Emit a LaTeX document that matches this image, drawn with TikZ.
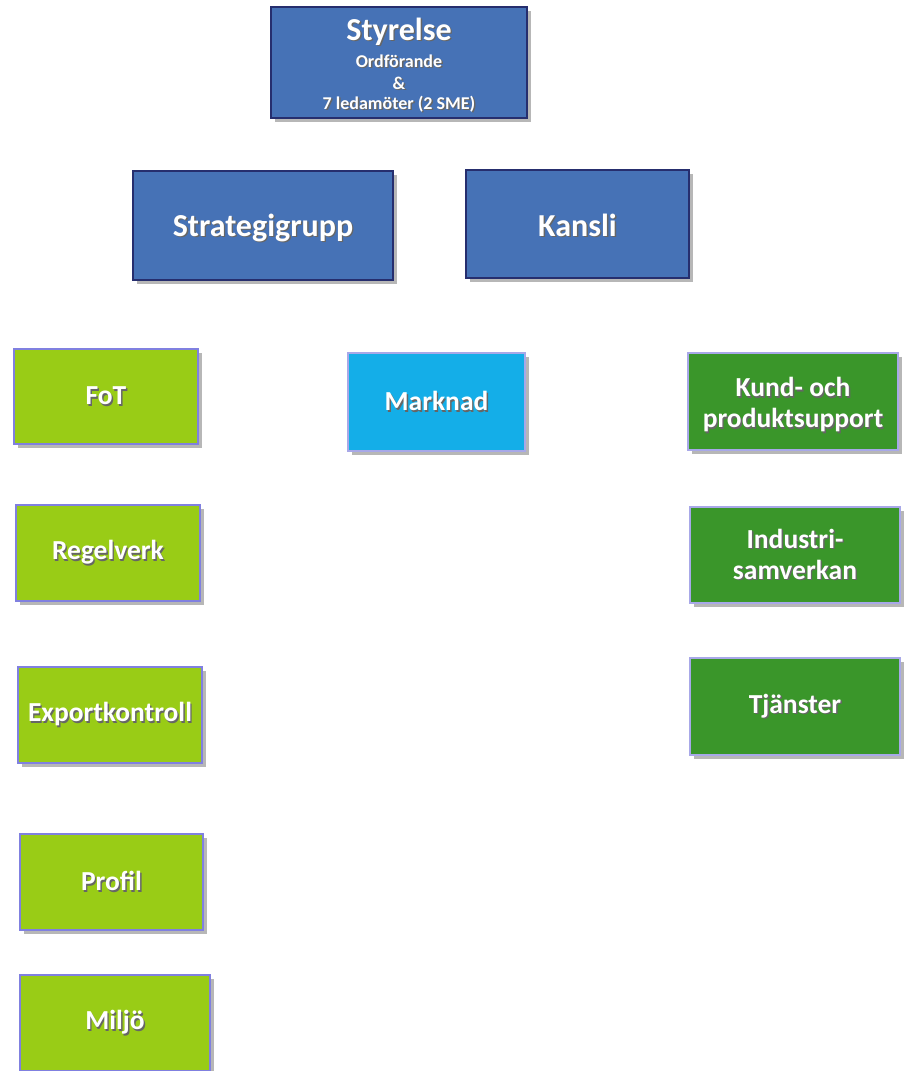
\documentclass[tikz,border=0pt]{standalone}
\usepackage{fontspec}
\setmainfont{Carlito}
\usetikzlibrary{shadows}
\definecolor{dblue}{RGB}{70,114,182}
\definecolor{navy}{RGB}{38,46,110}
\definecolor{lgreen}{RGB}{153,204,22}
\definecolor{cyanbox}{RGB}{20,174,232}
\definecolor{dgreen}{RGB}{58,150,42}
\definecolor{lilac}{RGB}{128,128,224}
\definecolor{paleline}{RGB}{168,168,232}
\newcommand\sht[1]{\leavevmode\rlap{\hspace{1.4pt}\raisebox{-1.4pt}{\textcolor{black!60}{#1}}}#1}
\newcommand\lowtxt[2]{\raisebox{-#1}[0pt][0pt]{\sht{#2}}}
\tikzset{
  box/.style={rectangle, inner sep=0pt, line width=1.5pt, text=white, align=center,
    font=\bfseries\fontsize{27.5}{31}\selectfont,
    drop shadow={shadow xshift=4pt, shadow yshift=-4pt, opacity=0.4, fill=black!70}},
  bluebox/.style={box, fill=dblue, draw=navy, font=\bfseries\fontsize{32}{36}\selectfont},
  greenbox/.style={box, fill=lgreen, draw=lilac},
  cyanbx/.style={box, fill=cyanbox, draw=paleline},
  dgreenbox/.style={box, fill=dgreen, draw=paleline},
  lbl/.style={text=white, inner sep=0pt, anchor=base},
  sublbl/.style={lbl, font=\bfseries\fontsize{18}{22}\selectfont},
  boxlbl/.style={text=white, inner sep=0pt, align=center, font=\bfseries\fontsize{27.5}{31}\selectfont},
}
\begin{document}
\begin{tikzpicture}[x=1pt,y=-1pt]
\useasboundingbox (0,0) rectangle (907,1071);
% Top
\node[bluebox, minimum width=256pt, minimum height=111pt] (sty) at (399,62.5) {};
\node[lbl, font=\bfseries\fontsize{32}{36}\selectfont] (styt) at (399,40) {\sht{Styrelse}};
\node[sublbl] (sty1) at (399,67) {\sht{Ordförande}};
\node[sublbl] (sty2) at (399,89) {\sht{\&}};
\node[sublbl] (sty3) at (399,109) {\sht{7 ledamöter (2 SME)}};
% Second row
\node[bluebox, minimum width=260pt, minimum height=109pt] (strat) at (263,225.5) {\lowtxt{10.5pt}{Strategigrupp}};
\node[bluebox, minimum width=223pt, minimum height=108pt] (kansli) at (577.5,224) {\lowtxt{12pt}{Kansli}};
% Left column
\node[greenbox, minimum width=184pt, minimum height=95pt] (fot) at (106,396.5) {\sht{FoT}};
\node[greenbox, minimum width=184pt, minimum height=96pt] (regel) at (108,553) {\sht{Regelverk}};
\node[greenbox, minimum width=184pt, minimum height=96pt] (export) at (110,715) {\sht{Exportkontroll}};
\node[greenbox, minimum width=183pt, minimum height=96pt] (profil) at (111.5,882) {\sht{Profil}};
\node[greenbox, minimum width=190pt, minimum height=96pt] (miljo) at (115,1023) {\sht{Miljö}};
% Middle
\node[cyanbx, minimum width=177pt, minimum height=98pt] (mark) at (436.5,402) {\sht{Marknad}};
% Right column
\node[dgreenbox, minimum width=210pt, minimum height=97pt] (kund) at (793,401.5) {};
\node[boxlbl] (kundt) at ([yshift=-4pt]kund.center) {\sht{Kund- och}\\\sht{produktsupport}};
\node[dgreenbox, minimum width=210pt, minimum height=96pt] (indu) at (795,555) {\sht{Industri-}\\\sht{samverkan}};
\node[dgreenbox, minimum width=210pt, minimum height=97pt] (tjan) at (795,706.5) {\sht{Tjänster}};
\end{tikzpicture}
\end{document}
